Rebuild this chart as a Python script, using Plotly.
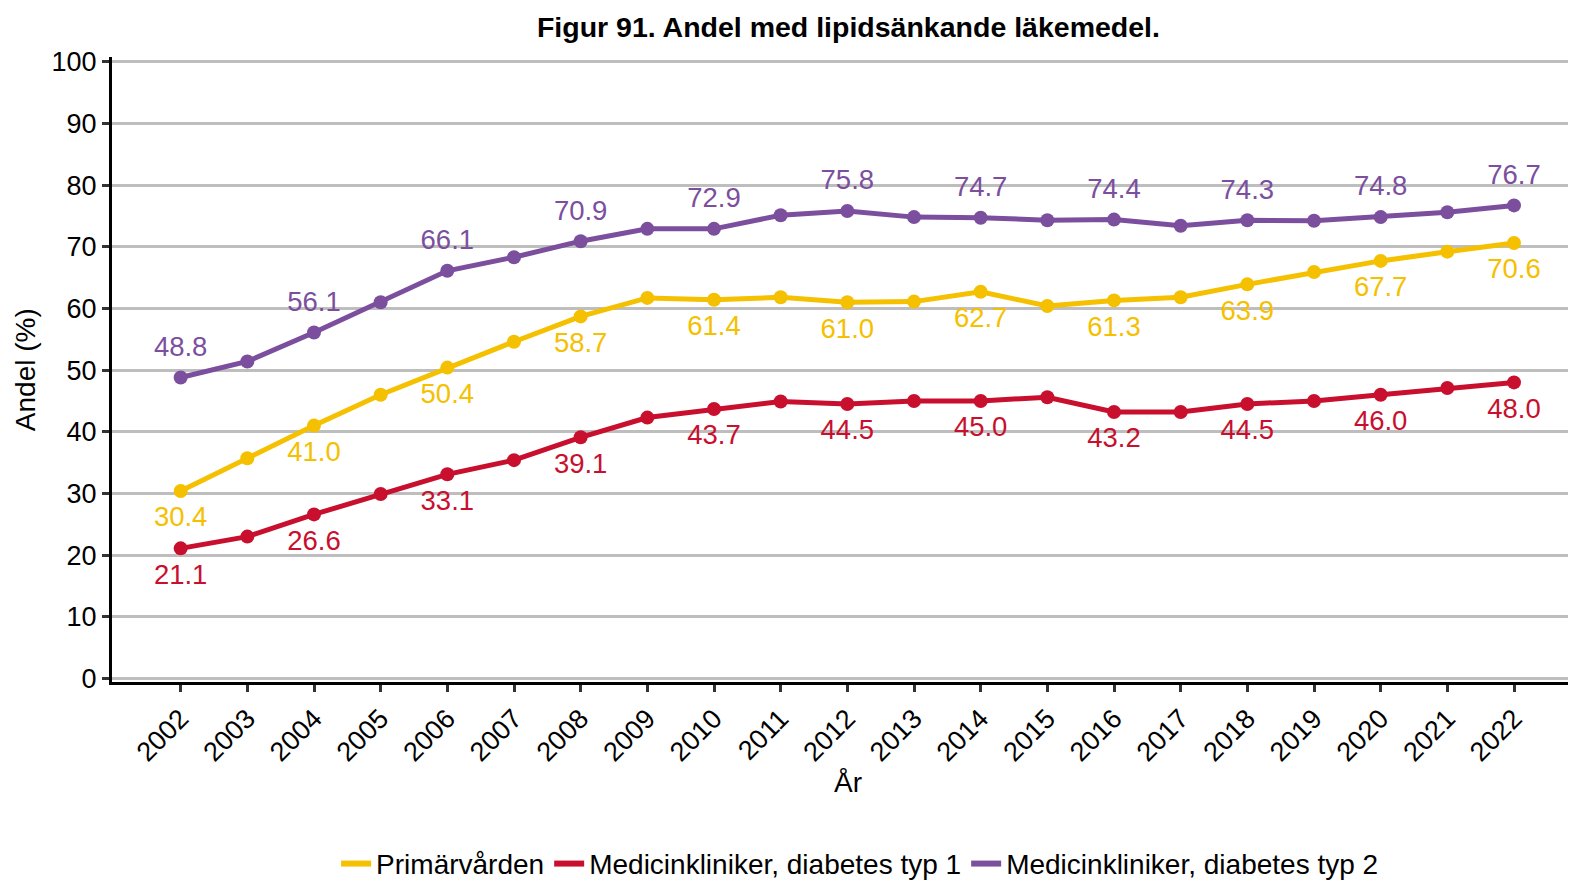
import plotly.graph_objects as go

years = list(range(2002, 2023))
primarvarden = [30.4, 35.7, 41.0, 46.0, 50.4, 54.6, 58.7, 61.7, 61.4, 61.8, 61.0,
                61.1, 62.7, 60.4, 61.3, 61.8, 63.9, 65.9, 67.7, 69.2, 70.6]
typ1 = [21.1, 23.0, 26.6, 29.9, 33.1, 35.4, 39.1, 42.3, 43.7, 44.9, 44.5,
        45.0, 45.0, 45.6, 43.2, 43.2, 44.5, 45.0, 46.0, 47.1, 48.0]
typ2 = [48.8, 51.4, 56.1, 61.0, 66.1, 68.3, 70.9, 72.9, 72.9, 75.1, 75.8,
        74.8, 74.7, 74.3, 74.4, 73.4, 74.3, 74.2, 74.8, 75.6, 76.7]
series_names = ["Primärvården", "Medicinkliniker, diabetes typ 1", "Medicinkliniker, diabetes typ 2"]
y_ticks = list(range(0, 101, 10))

colors = ["#F5C000", "#C8102E", "#7B4F9E"]
FONT = "Liberation Sans, Arial, sans-serif"

fig = go.Figure()
series = [primarvarden, typ1, typ2]
positions = ["bottom center", "bottom center", "top center"]
for name, vals, col, pos in zip(series_names, series, colors, positions):
    fig.add_trace(go.Scatter(x=years, y=vals, mode="lines+markers", name=name,
                             line=dict(color=col, width=5),
                             marker=dict(color=col, size=14),
                             showlegend=False, hoverinfo="x+y"))
    lx = years[::2]
    ly = vals[::2]
    fig.add_trace(go.Scatter(x=lx, y=ly, mode="markers+text", text=[f"{v:.1f}" for v in ly],
                             textposition=pos,
                             marker=dict(size=22, opacity=0, color=col),
                             textfont=dict(color=col, size=27.5, family=FONT),
                             showlegend=False, hoverinfo="skip"))

for name, col in zip(series_names, colors):
    fig.add_trace(go.Scatter(x=[None], y=[None], mode="lines", name=name,
                             line=dict(color=col, width=6)))

fig.update_layout(
    width=1568, height=875,
    paper_bgcolor="white", plot_bgcolor="white",
    margin=dict(l=104, r=0, t=49, b=201, autoexpand=False),
    font=dict(family=FONT, size=27, color="black"),
    title=dict(text="<b>Figur 91. Andel med lipidsänkande läkemedel.</b>",
               x=0.536, xref="container", xanchor="center",
               y=0.978, yref="container", yanchor="middle",
               font=dict(size=28.5, family=FONT, color="black")),
    legend=dict(orientation="h", x=0.511, xanchor="center", y=-0.291, yanchor="middle",
                font=dict(size=28, family=FONT), itemwidth=30,
                traceorder="normal"),
    showlegend=True,
    annotations=[
        dict(text="År", x=0.503, y=-0.16, xref="paper", yref="paper",
             xanchor="center", yanchor="middle", showarrow=False,
             font=dict(size=28, family=FONT, color="black")),
        dict(text="Andel (%)", x=-0.0594, y=0.499, xref="paper", yref="paper",
             xanchor="center", yanchor="middle", showarrow=False, textangle=-90,
             font=dict(size=28, family=FONT, color="black")),
    ],
)
fig.update_xaxes(range=[2000.97, 2022.93], tickmode="array", tickvals=years,
                 ticktext=[str(y) for y in years], tickangle=-45, automargin=False,
                 showgrid=False, zeroline=False,
                 showline=True, linecolor="black", linewidth=3,
                 ticks="outside", ticklen=7, tickwidth=3, tickcolor="#333333",
                 tickfont=dict(size=27, family=FONT))
fig.update_yaxes(range=[-0.57, 100.76], tickmode="array", tickvals=y_ticks, automargin=False,
                 showgrid=True, gridcolor="#BEBEBE", gridwidth=3, zeroline=False,
                 showline=True, linecolor="black", linewidth=3,
                 ticks="outside", ticklen=7, tickwidth=3, tickcolor="#333333",
                 tickfont=dict(size=27, family=FONT))

fig.write_html("out.html")
